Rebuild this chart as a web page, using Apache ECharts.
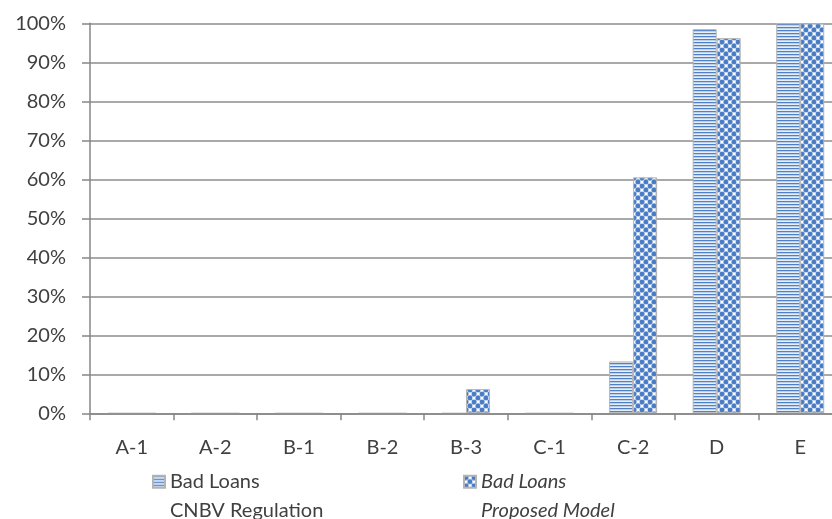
<!DOCTYPE html>
<html>
<head>
<meta charset="utf-8">
<script src="https://cdn.jsdelivr.net/npm/echarts@6/dist/echarts.min.js"></script>
<style>
html,body{margin:0;padding:0;background:#fff;}
#chart{width:832px;height:519px;}
</style>
</head>
<body>
<div id="chart"></div>
<script>
var categories = ['A-1','A-2','B-1','B-2','B-3','C-1','C-2','D','E'];
var cnbvValues = [0, 0, 0, 0, 0, 0, 13.3, 98.5, 100];
var proposedValues = [0, 0, 0, 0, 6.2, 0, 60.5, 96.2, 100];
var seriesNames = ['Bad Loans\nCNBV Regulation', 'Bad Loans\nProposed Model'];
var yTickLabels = ['0%','10%','20%','30%','40%','50%','60%','70%','80%','90%','100%'];

function stripePattern() {
  var c = document.createElement('canvas');
  c.width = 4; c.height = 3;
  var g = c.getContext('2d');
  g.fillStyle = '#4f81c7'; g.fillRect(0, 0, 4, 1);
  g.fillStyle = '#bcd0ec'; g.fillRect(0, 1, 4, 1);
  g.fillStyle = '#e8eef8'; g.fillRect(0, 2, 4, 1);
  return c;
}
function dotPattern() {
  var c = document.createElement('canvas');
  c.width = 8; c.height = 8;
  var g = c.getContext('2d');
  g.fillStyle = '#ffffff'; g.fillRect(0, 0, 8, 8);
  g.fillStyle = '#c3d5ee';
  g.fillRect(4, 0, 4, 4); g.fillRect(0, 4, 4, 4);
  g.fillStyle = '#ffffff';
  g.fillRect(5, 1, 2, 2); g.fillRect(1, 5, 2, 2);
  var pts = [[2, 2], [6, 6]];
  pts.forEach(function (p) {
    g.beginPath(); g.arc(p[0], p[1], 2.4, 0, Math.PI * 2);
    g.fillStyle = '#4a7cc4'; g.fill();
  });
  return c;
}

var FONT = 'Lato';
var chart = echarts.init(document.getElementById('chart'), null, {renderer: 'canvas'});
var stripe = {image: stripePattern(), repeat: 'repeat'};
var dots = {image: dotPattern(), repeat: 'repeat'};

chart.setOption({
  animation: false,
  backgroundColor: '#ffffff',
  grid: {left: 90, right: -10, top: 23.3, bottom: 105.7, containLabel: false, outerBoundsMode: 'none'},
  legend: [
    {
      data: [seriesNames[0]], left: 152, top: 439, padding: 0,
      itemWidth: 12, itemHeight: 12, icon: 'rect',
      formatter: function (n) { return '\n' + n; },
      textStyle: {fontFamily: FONT, fontSize: 20, color: '#404040', lineHeight: 28.5}
    },
    {
      data: [seriesNames[1]], left: 463, top: 439, padding: 0,
      itemWidth: 12, itemHeight: 12, icon: 'rect',
      formatter: function (n) { return '\n' + n; },
      textStyle: {fontFamily: FONT, fontSize: 20, color: '#404040', fontStyle: 'italic', lineHeight: 28.5}
    }
  ],
  xAxis: {
    type: 'category',
    data: categories,
    z: 5,
    axisLine: {lineStyle: {color: '#868686', width: 1.5}},
    axisTick: {show: true, length: 7, lineStyle: {color: '#868686', width: 1.5}},
    axisLabel: {fontFamily: FONT, fontSize: 20, color: '#404040', margin: 24}
  },
  yAxis: {
    type: 'value', min: 0, max: 100, interval: 10,
    axisLine: {show: true, lineStyle: {color: '#868686', width: 1.5}},
    axisTick: {show: true, length: 8, lineStyle: {color: '#868686', width: 1.5}},
    axisLabel: {
      fontFamily: FONT, fontSize: 20, color: '#404040', margin: 24,
      formatter: function (v) { return yTickLabels[Math.round(v / 10)]; }
    },
    splitLine: {show: true, lineStyle: {color: '#8c8c8c', width: 1.5}}
  },
  series: [
    {
      name: seriesNames[0], type: 'bar', data: cnbvValues,
      barWidth: 24, barGap: '0%',
      itemStyle: {color: stripe, borderColor: '#b4b4b4', borderWidth: 1}
    },
    {
      name: seriesNames[1], type: 'bar', data: proposedValues,
      barWidth: 24, barGap: '0%',
      itemStyle: {color: dots, borderColor: '#b4b4b4', borderWidth: 1}
    }
  ]
});
</script>
</body>
</html>
